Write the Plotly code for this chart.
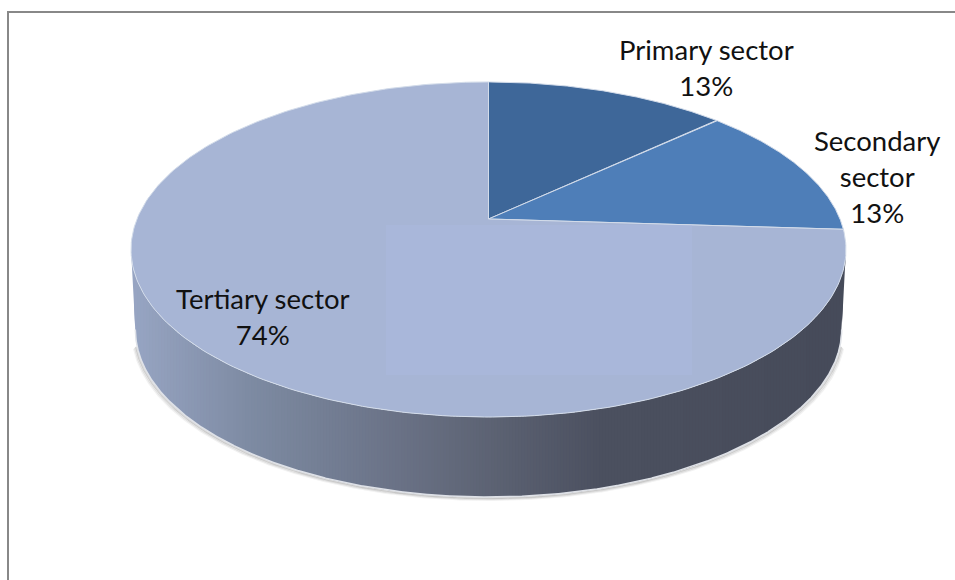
import numpy as np
import plotly.graph_objects as go

# Chart content
categories = ["Primary sector", "Secondary sector", "Tertiary sector"]
values = [13, 13, 74]
top_colors = ["#3e6799", "#4e7eb8", "#a7b5d5"]
label_lines = ["Primary sector", "Secondary<br>sector", "Tertiary sector"]
label_centres = [(706, 67), (877, 176), (263, 316)]

# Perspective disc: centre of the pie and projection constants
CX, CY = 488.5, 219.0
RX, RY, TILT = 351.5, 162.0, 0.182
DEPTH, DEPTH_SCALE = 80.0, 0.988


def project(turn):
    """Map a fraction of a clockwise turn from 12 o'clock onto the tilted disc."""
    theta = 2 * np.pi * np.asarray(turn)
    u, v = np.sin(theta), -np.cos(theta)
    w = 1 - TILT * v
    return CX + RX * u / w, CY + RY * v / w


def lower_rim(turn):
    x, y = project(turn)
    return CX + (x - CX) * DEPTH_SCALE, y + DEPTH


fig = go.Figure()

# Front half of the disc, between its two widest points, with x increasing
t_all = np.linspace(0.0, 1.0, 6001)
x_all, _ = project(t_all)
t_right, t_left = t_all[np.argmax(x_all)], t_all[np.argmin(x_all)]
t_dense = np.linspace(t_left, t_right, 3001)
xt_all, yt_all = project(t_dense)
xb_all, yb_all = lower_rim(t_dense)

# Soft shadow below the side wall
t_front = np.linspace(t_left - 0.015, t_right + 0.015, 400)
for grow, alpha in [(3, 0.07), (2, 0.12), (1, 0.2)]:
    x, y = lower_rim(t_front)
    fig.add_trace(go.Scatter(
        x=CX + (x - CX) * (1 + grow / 350), y=y + grow,
        mode="lines", line=dict(color=f"rgba(70,70,70,{alpha})", width=2),
        hoverinfo="skip"))

# Side wall: vertical bands shaded from left to right
wall_x = [131, 250, 400, 490, 600, 846]
wall_r = [152, 126, 106, 93, 76, 70]
wall_g = [166, 139, 114, 99, 81, 75]
wall_b = [196, 163, 134, 116, 96, 90]

band_edges = np.arange(xt_all[0], xt_all[-1] + 3, 3.0)
for x0, x1 in zip(band_edges[:-1], band_edges[1:]):
    xs = np.linspace(x0, min(x1 + 1, xt_all[-1]), 4)
    top_y = np.interp(xs, xt_all, yt_all)
    bottom_y = np.interp(xs, xb_all, yb_all)
    # Outside the lower rim the wall closes along a straight edge
    bottom_y = np.where(xs < xb_all[0],
                        np.interp(xs, [xt_all[0], xb_all[0]], [yt_all[0], yb_all[0]]),
                        bottom_y)
    bottom_y = np.where(xs > xb_all[-1],
                        np.interp(xs, [xb_all[-1], xt_all[-1]], [yb_all[-1], yt_all[-1]]),
                        bottom_y)
    mid = 0.5 * (x0 + x1)
    colour = "rgb({},{},{})".format(int(np.interp(mid, wall_x, wall_r)),
                                    int(np.interp(mid, wall_x, wall_g)),
                                    int(np.interp(mid, wall_x, wall_b)))
    fig.add_trace(go.Scatter(
        x=np.r_[xs, xs[::-1]], y=np.r_[top_y, bottom_y[::-1]],
        mode="lines", fill="toself", fillcolor=colour,
        line=dict(width=0), hoverinfo="skip"))

# Pale line along the lower rim
x, y = lower_rim(t_dense)
fig.add_trace(go.Scatter(x=x, y=y, mode="lines",
                         line=dict(color="#dfe2e8", width=1.5), hoverinfo="skip"))

# Top face wedges drawn from the values
total = sum(values)
start = 0.0
for name, val, colour in zip(categories, values, top_colors):
    end = start + val / total
    t = np.linspace(start, end, 240)
    x, y = project(t)
    fig.add_trace(go.Scatter(
        x=np.r_[CX, x, CX], y=np.r_[CY, y, CY], name=name,
        mode="lines", fill="toself", fillcolor=colour,
        line=dict(color="#d3dcea", width=1), hoverinfo="skip"))
    start = end

# Labels
annotations = []
for line, val, (lx, ly) in zip(label_lines, values, label_centres):
    annotations.append(dict(x=lx, y=ly, xref="x", yref="y", showarrow=False,
                            text=f"{line}<br>{val}%", align="center",
                            font=dict(family="Lato", size=27.5, color="#111111")))

fig.update_layout(
    width=955, height=580, showlegend=False,
    margin=dict(l=0, r=0, t=0, b=0),
    paper_bgcolor="white", plot_bgcolor="white",
    xaxis=dict(range=[0, 955], visible=False, fixedrange=True),
    yaxis=dict(range=[580, 0], visible=False, fixedrange=True),
    annotations=annotations,
    shapes=[
        # Slightly brighter patch on the top face
        dict(type="rect", x0=386, x1=692, y0=225, y1=375, layer="above",
             fillcolor="rgba(172,187,224,0.45)", line=dict(width=0)),
        # Frame: top and left edges only
        dict(type="line", x0=8, x1=955, y0=12, y1=12, line=dict(color="#888888", width=2)),
        dict(type="line", x0=8, x1=8, y0=11, y1=580, line=dict(color="#888888", width=2)),
    ],
)

fig.write_html("out.html", config=dict(displayModeBar=False))
